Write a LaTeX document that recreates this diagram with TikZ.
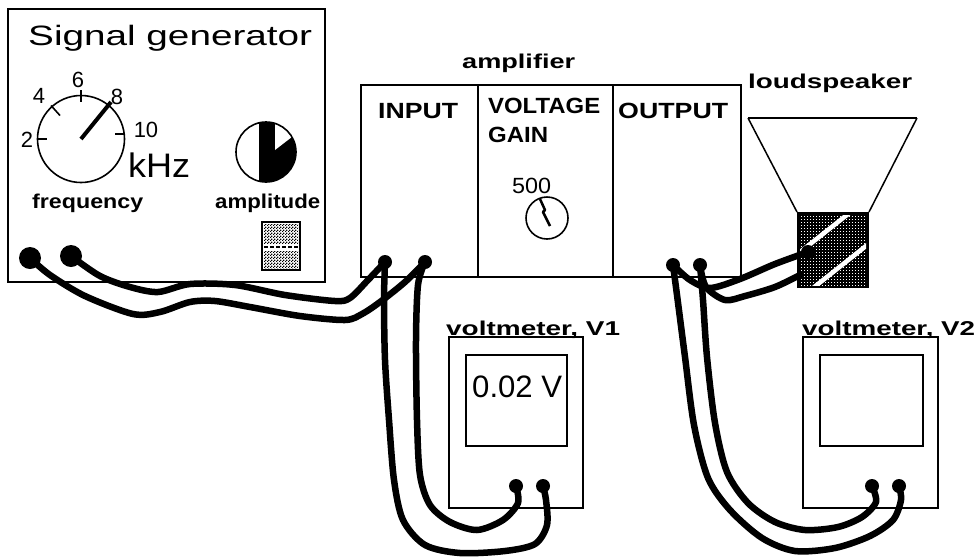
\documentclass[tikz,border=0pt]{standalone}
\usepackage{fontspec}
\setmainfont{Liberation Sans}
\usetikzlibrary{patterns}
% stretch a text horizontally to a given width, keeping its height
\newcommand{\fitw}[2]{\resizebox{#1}{\height}{#2}}
% coarse checkerboard dither, as on a bitmap screen
\pgfdeclarepatternformonly{dither}{\pgfpointorigin}{\pgfpoint{3pt}{3pt}}{\pgfpoint{3pt}{3pt}}{%
  \pgfpathrectangle{\pgfpointorigin}{\pgfpoint{1.5pt}{1.5pt}}%
  \pgfpathrectangle{\pgfpoint{1.5pt}{1.5pt}}{\pgfpoint{1.5pt}{1.5pt}}%
  \pgfusepath{fill}}
% sparse dots
\pgfdeclarepatternformonly{specks}{\pgfpointorigin}{\pgfpoint{3pt}{3pt}}{\pgfpoint{3pt}{3pt}}{%
  \pgfpathrectangle{\pgfpointorigin}{\pgfpoint{1.2pt}{1.2pt}}%
  \pgfusepath{fill}}
\begin{document}
\begin{tikzpicture}[x=1pt,y=-1pt,
  frame/.style={draw=black,line width=2pt},
  wire/.style={draw=black,line width=6.5pt,line cap=round,line join=round},
  plug/.style={fill=black},
  lbl/.style={inner sep=0pt,anchor=base west},
  num/.style={inner sep=0pt,anchor=center,font=\fontsize{22}{24}\selectfont},
  bold/.style={inner sep=0pt,anchor=base west,font=\bfseries\fontsize{20}{22}\selectfont},
  caps/.style={inner sep=0pt,anchor=base west,font=\bfseries\fontsize{22}{24}\selectfont},
]
\useasboundingbox (0,0) rectangle (980,558);

% ---------------- signal generator ----------------
\node[frame,minimum width=317pt,minimum height=273pt,inner sep=0pt] (siggen) at (166.5,145.5) {};
\node[lbl] (title) at (28,45) {\fontsize{28}{30}\selectfont\fitw{284pt}{Signal generator}};

% frequency dial
\node[circle,draw,line width=1.6pt,minimum size=87pt,inner sep=0pt] (freqdial) at (81,139) {};
\draw[line width=1.6pt] (37.5,139) -- (47,139);
\draw[line width=1.6pt] (51,105.5) -- (60,115.5);
\draw[line width=1.6pt] (81,90) -- (81,102);
\draw[line width=1.6pt] (115,134) -- (124.5,134);
\draw[line width=4pt] (freqdial.center) -- (111,102);
\node[num] (n2) at (27,140) {2};
\node[num] (n4) at (39,96) {4};
\node[num] (n6) at (78,80) {6};
\node[num] (n8) at (117,97) {8};
\node[num] (n10) at (146,130) {10};
\node[lbl] (khz) at (128,177) {\fontsize{34}{36}\selectfont\fitw{62pt}{kHz}};
\node[bold] (freq) at (32,208) {\fitw{111pt}{frequency}};

% amplitude knob
\begin{scope}
  \clip (266,152) circle (30pt);
  \fill[black] (259,115) rectangle (300,190);
  \fill[white] (275,150) -- (275,100) -- (340,100) -- cycle;
\end{scope}
\node[circle,draw,line width=1.6pt,minimum size=60pt,inner sep=0pt] (ampknob) at (266,152) {};
\node[bold] (amplab) at (215,208) {\fitw{105pt}{amplitude}};

% amplitude range switch
\node[draw,line width=1.5pt,minimum width=38pt,minimum height=48pt,inner sep=0pt] (range) at (281,246) {};
\fill[pattern=dither] (264,224) rectangle (298,243);
\draw[line width=2pt,dash pattern=on 4pt off 2pt] (264,247) -- (298,247);
\fill[pattern=dither] (264,251) rectangle (298,268);

% output sockets
\coordinate (g1) at (30,258);
\coordinate (g2) at (71,256);

% ---------------- amplifier ----------------
\node[frame,minimum width=380pt,minimum height=192pt,inner sep=0pt] (amp) at (551,181) {};
\draw[frame] (478,85) -- (478,277);
\draw[frame] (613,85) -- (613,277);
\node[bold] (amplifier) at (462,68) {\fitw{113pt}{amplifier}};
\node[caps] (input) at (378,118) {\fitw{80pt}{INPUT}};
\node[caps] (voltage) at (488,113) {\fitw{112pt}{VOLTAGE}};
\node[caps] (gain) at (488,142) {\fitw{60pt}{GAIN}};
\node[caps] (output) at (618,118) {\fitw{110pt}{OUTPUT}};
\node[lbl] (g500) at (512,193) {\fontsize{22}{24}\selectfont\fitw{39pt}{500}};
\node[circle,draw,line width=1.6pt,minimum size=42pt,inner sep=0pt] (gaindial) at (547,218) {};
\draw[line width=2.5pt,line join=round] (540,199) -- (545,210) -- (543,212) -- (550,226);

\coordinate (i1) at (385,262);
\coordinate (i2) at (425,262);
\coordinate (o1) at (673,265);
\coordinate (o2) at (700,265);

% ---------------- loudspeaker ----------------
\node[bold] (lslab) at (748,88) {\fitw{164pt}{loudspeaker}};
\draw[line width=2pt] (748,118) -- (917,118);
\draw[line width=1.5pt] (748,118) -- (797,212);
\draw[line width=1.5pt] (917,118) -- (869,212);
\fill[black] (797,212) rectangle (869,288);
\begin{scope}
  \clip (800,215) rectangle (866,285);
  \fill[pattern=specks,pattern color=white] (800,215) rectangle (866,285);
  \draw[white,line width=4.5pt] (790,260) -- (862,203);
  \draw[white,line width=4.5pt] (808,292) -- (876,238);
\end{scope}
\coordinate (ls1) at (808,252);
\coordinate (ls2) at (800,275);

% ---------------- voltmeters ----------------
\node[draw,line width=1.6pt,minimum width=134pt,minimum height=171pt,inner sep=0pt] (vm1) at (516,422.5) {};
\node[draw,line width=1.6pt,minimum width=101pt,minimum height=91pt,inner sep=0pt] (scr1) at (516.5,400.5) {};
\node[lbl] (reading) at (472,397) {\fontsize{31}{33}\selectfont\fitw{90pt}{0.02 V}};
\node[bold] (vm1lab) at (446,335) {\fitw{174pt}{voltmeter, V1}};
\coordinate (v1a) at (516,486);
\coordinate (v1b) at (543,486);

\node[draw,line width=1.6pt,minimum width=135pt,minimum height=171pt,inner sep=0pt] (vm2) at (870.5,422.5) {};
\node[draw,line width=1.6pt,minimum width=103pt,minimum height=91pt,inner sep=0pt] (scr2) at (871.5,400.5) {};
\node[bold] (vm2lab) at (802,335) {\fitw{173pt}{voltmeter, V2}};
\coordinate (v2a) at (872,486);
\coordinate (v2b) at (899,486);

% ---------------- leads ----------------
\draw[wire] plot[smooth,tension=0.5] coordinates {(g1) (50,275) (85,296) (133,314) (160,312) (190,302) (215,301) (250,307) (300,316) (345,320) (362,314) (380,302) (405,282) (i2)};
\draw[wire] plot[smooth,tension=0.5] coordinates {(g2) (100,276) (130,287) (158,292) (190,284) (235,285) (285,295) (335,301) (350,298) (368,280) (i1)};

\draw[wire] plot[smooth,tension=0.5] coordinates {(i1) (384,300) (385,360) (389,420) (394,480) (403,520) (425,545) (460,553) (505,551) (535,544) (547,525) (546,500) (v1b)};
\draw[wire] plot[smooth,tension=0.5] coordinates {(i2) (418,285) (416,340) (417,420) (420,475) (430,505) (450,522) (477,530) (503,520) (518,503) (v1a)};

\draw[wire] plot[smooth,tension=0.5] coordinates {(o1) (677,295) (685,357) (694,425) (708,478) (730,510) (762,538) (795,551) (835,548) (870,536) (893,520) (901,500) (v2b)};
\draw[wire] plot[smooth,tension=0.5] coordinates {(o2) (703,300) (707,357) (715,423) (727,472) (748,503) (775,522) (805,530) (838,527) (862,517) (876,502) (v2a)};

\draw[wire] plot[smooth,tension=0.5] coordinates {(o1) (690,280) (710,288) (740,279) (775,264) (ls1)};
\draw[wire] plot[smooth,tension=0.5] coordinates {(o2) (706,287) (725,300) (745,296) (775,287) (ls2)};

% plugs
\fill[plug] (g1) circle (11pt);
\fill[plug] (g2) circle (11pt);
\foreach \p in {i1,i2,o1,o2,ls1,v1a,v1b,v2a,v2b}
  \fill[plug] (\p) circle (7pt);
\end{tikzpicture}
\end{document}
